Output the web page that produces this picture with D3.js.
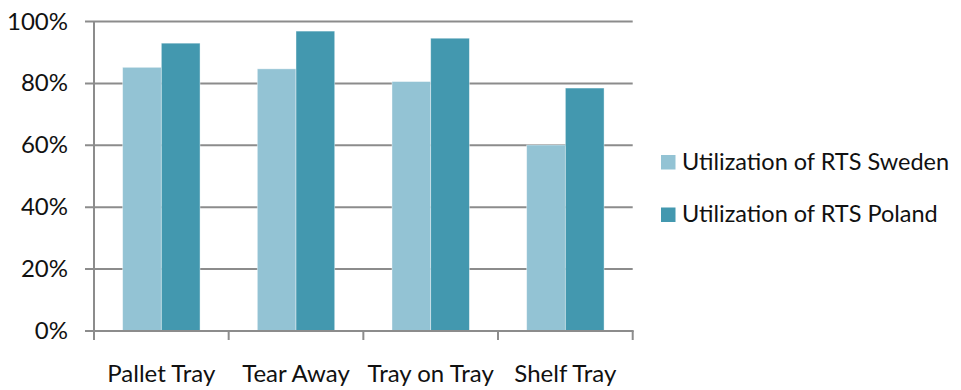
<!DOCTYPE html>
<html>
<head>
<meta charset="utf-8">
<script src="https://cdn.jsdelivr.net/npm/d3@7"></script>
<style>
  html, body { margin: 0; padding: 0; background: #fff; }
  svg { display: block; }
  text { font-family: Lato, "Open Sans", sans-serif; fill: #111; }
</style>
</head>
<body>
<svg id="chart" width="961" height="390"></svg>
<script>
// Utilization per tray type, share of capacity
const categories = ["Pallet Tray", "Tear Away", "Tray on Tray", "Shelf Tray"];
const seriesNames = ["Utilization of RTS Sweden", "Utilization of RTS Poland"];
const sweden = [0.852, 0.847, 0.806, 0.601];
const poland = [0.930, 0.969, 0.946, 0.785];
const yTicks = [0, 0.2, 0.4, 0.6, 0.8, 1.0];
const colors = ["#93c3d4", "#4398af"];

const svg = d3.select("#chart");
const plotLeft = 94, plotRight = 632.7, plotTop = 21.5, plotBottom = 331;

const x0 = d3.scaleBand().domain(categories).range([plotLeft, plotRight]).padding(0);
const x1 = d3.scaleBand().domain(seriesNames).range([0, x0.bandwidth()])
  .paddingInner(0).paddingOuter(0.74);
const y = d3.scaleLinear().domain([0, 1]).range([plotBottom, plotTop]);

const rows = categories.map((c, i) => ({ cat: c, vals: [sweden[i], poland[i]] }));

// horizontal gridlines (extend left as tick marks)
svg.append("g").selectAll("line").data(yTicks.filter(t => t > 0)).join("line")
  .attr("x1", plotLeft - 9).attr("x2", plotRight)
  .attr("y1", d => y(d)).attr("y2", d => y(d))
  .attr("stroke", "#8c8c8c").attr("stroke-width", 2);

// bars
const groups = svg.append("g").selectAll("g").data(rows).join("g")
  .attr("transform", d => `translate(${x0(d.cat)},0)`);
groups.selectAll("rect").data(d => d.vals.map((v, k) => ({ v, k })))
  .join("rect")
  .attr("x", d => x1(seriesNames[d.k]))
  .attr("width", x1.bandwidth())
  .attr("y", d => y(d.v))
  .attr("height", d => y(0) - y(d.v))
  .attr("fill", d => colors[d.k])
  .attr("stroke", "rgba(255,255,255,0.5)").attr("stroke-width", 0.8);

// axis lines
svg.append("line").attr("x1", plotLeft).attr("x2", plotLeft).attr("y1", plotTop).attr("y2", plotBottom)
  .attr("stroke", "#8c8c8c").attr("stroke-width", 2);
svg.append("line").attr("x1", plotLeft - 9).attr("x2", plotRight + 1).attr("y1", plotBottom).attr("y2", plotBottom)
  .attr("stroke", "#8c8c8c").attr("stroke-width", 2);

// category boundary ticks on x axis
const bounds = categories.map(c => x0(c)).concat([plotRight]);
svg.append("g").selectAll("line").data(bounds).join("line")
  .attr("x1", d => d).attr("x2", d => d)
  .attr("y1", plotBottom).attr("y2", plotBottom + 9)
  .attr("stroke", "#8c8c8c").attr("stroke-width", 2);

// y tick labels
const fmt = d3.format(".0%");
svg.append("g").selectAll("text").data(yTicks).join("text")
  .attr("x", 68).attr("y", d => y(d) + 8)
  .attr("text-anchor", "end")
  .style("font-size", "24px")
  .text(d => fmt(d));

// category labels
svg.append("g").selectAll("text").data(categories).join("text")
  .attr("x", d => x0(d) + x0.bandwidth() / 2)
  .attr("y", 381.5)
  .attr("text-anchor", "middle")
  .style("font-size", "24px")
  .text(d => d);

// legend
const legend = svg.append("g").selectAll("g").data(seriesNames).join("g")
  .attr("transform", (d, i) => `translate(661,${155 + i * 52.5})`);
legend.append("rect").attr("width", 14.5).attr("height", 14.5)
  .attr("fill", (d, i) => colors[i]);
legend.append("text").attr("x", 21).attr("y", 14.8)
  .style("font-size", "23.5px")
  .text(d => d);
</script>
</body>
</html>
